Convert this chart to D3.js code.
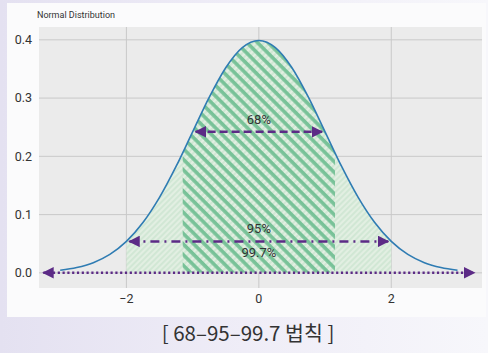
<!DOCTYPE html>
<html>
<head>
<meta charset="utf-8">
<script src="https://cdn.jsdelivr.net/npm/d3@7"></script>
<style>
  html, body { margin: 0; padding: 0; }
  body { width: 488px; height: 353px; overflow: hidden;
         background: linear-gradient(90deg, #e4e1f1 0%, #efedf7 50%, #f7f7fb 100%); }
</style>
</head>
<body>
<div id="chart"></div>
<script>
// values
var curveX = [-3, -2.75, -2.5, -2.25, -2, -1.75, -1.5, -1.25, -1, -0.75, -0.5, -0.25, 0,
              0.25, 0.5, 0.75, 1, 1.25, 1.5, 1.75, 2, 2.25, 2.5, 2.75, 3];
var curveY = [0.0044, 0.0091, 0.0175, 0.0317, 0.054, 0.0863, 0.1295, 0.1826, 0.242, 0.3011, 0.3521, 0.3867, 0.3989,
              0.3867, 0.3521, 0.3011, 0.242, 0.1826, 0.1295, 0.0863, 0.054, 0.0317, 0.0175, 0.0091, 0.0044];
var xTicks = [-2, 0, 2];
var yTicks = [0.0, 0.1, 0.2, 0.3, 0.4];
var bandLight = [-2, 2];
var bandDark = [-1.15, 1.15];
var arrows = [
  {from: -1, to: 1, y: 0.242, dash: "8,4"},
  {from: -2, to: 2, y: 0.054, dash: "9,5,2,5"},
  {from: -3.3, to: 3.3, y: 0, dash: "2.2,2.6"}
];
var labels = [
  {text: "68%", x: 0, y: 0.262},
  {text: "95%", x: 0, y: 0.075},
  {text: "99.7%", x: 0, y: 0.033}
];

var W = 488, H = 353;
var plot = {left: 39, right: 482, top: 27, bottom: 288};

var svg = d3.select("#chart").append("svg")
    .attr("width", W).attr("height", H);

/*white card*/
svg.append("rect").attr("x", 7).attr("y", 3).attr("width", 479).attr("height", 314).attr("fill", "#fbfbfc");

var x = d3.scaleLinear().domain([-3.32, 3.37]).range([plot.left, plot.right]);
var y = d3.scaleLinear().domain([-0.026, 0.422]).range([plot.bottom, plot.top]);

var defs = svg.append("defs");

/*hatch patterns*/
var pLight = defs.append("pattern").attr("id", "hLight")
    .attr("width", 4).attr("height", 4).attr("patternUnits", "userSpaceOnUse")
    .attr("patternTransform", "rotate(45)");
pLight.append("rect").attr("width", 4).attr("height", 4).attr("fill", "#e2efe2");
pLight.append("line").attr("x1", 1).attr("x2", 1).attr("y1", 0).attr("y2", 4)
    .attr("stroke", "#c6e3cc").attr("stroke-width", 1.2);

var pDark = defs.append("pattern").attr("id", "hDark")
    .attr("width", 7.5).attr("height", 7.5).attr("patternUnits", "userSpaceOnUse")
    .attr("patternTransform", "rotate(-45)");
pDark.append("line").attr("x1", 2).attr("x2", 2).attr("y1", 0).attr("y2", 7.5)
    .attr("stroke", "#78c298").attr("stroke-width", 3.6);

defs.append("clipPath").attr("id", "cLight").append("rect")
    .attr("x", x(bandLight[0])).attr("width", x(bandLight[1]) - x(bandLight[0]))
    .attr("y", plot.top).attr("height", y(0) - plot.top);
defs.append("clipPath").attr("id", "cDark").append("rect")
    .attr("x", x(bandDark[0])).attr("width", x(bandDark[1]) - x(bandDark[0]))
    .attr("y", plot.top).attr("height", y(0) - plot.top);

var marker = defs.append("marker").attr("id", "arr")
    .attr("viewBox", "0 0 10 10").attr("refX", 9).attr("refY", 5)
    .attr("markerWidth", 4.6).attr("markerHeight", 4.6).attr("markerUnits", "strokeWidth")
    .attr("orient", "auto-start-reverse");
marker.append("path").attr("d", "M0,0 L10,5 L0,10 Z").attr("fill", "#5c2b86");

/*plot background*/
svg.append("rect").attr("x", plot.left).attr("y", plot.top)
    .attr("width", plot.right - plot.left).attr("height", plot.bottom - plot.top)
    .attr("fill", "#ebebeb");

/*gridlines*/
svg.append("g").selectAll("line").data(yTicks).join("line")
    .attr("x1", plot.left).attr("x2", plot.right)
    .attr("y1", d => y(d)).attr("y2", d => y(d))
    .attr("stroke", "#c9c9c9").attr("stroke-width", 1);
svg.append("g").selectAll("line").data(xTicks).join("line")
    .attr("y1", plot.top).attr("y2", plot.bottom)
    .attr("x1", d => x(d)).attr("x2", d => x(d))
    .attr("stroke", "#c9c9c9").attr("stroke-width", 1);

var pts = curveX.map((v, i) => [v, curveY[i]]);

var area = d3.area().x(d => x(d[0])).y0(y(0)).y1(d => y(d[1])).curve(d3.curveMonotoneX);
svg.append("path").datum(pts).attr("d", area).attr("fill", "url(#hLight)").attr("clip-path", "url(#cLight)");
svg.append("path").datum(pts).attr("d", area).attr("fill", "url(#hDark)").attr("clip-path", "url(#cDark)");

var line = d3.line().x(d => x(d[0])).y(d => y(d[1])).curve(d3.curveMonotoneX);
svg.append("path").datum(pts).attr("d", line)
    .attr("fill", "none").attr("stroke", "#2f7cb3").attr("stroke-width", 1.6);

/*arrows*/
svg.append("g").selectAll("line").data(arrows).join("line")
    .attr("x1", d => x(d.from) + 3).attr("x2", d => x(d.to) - 3)
    .attr("y1", d => y(d.y)).attr("y2", d => y(d.y))
    .attr("stroke", "#5c2b86").attr("stroke-width", 2.5)
    .attr("stroke-dasharray", d => d.dash)
    .attr("marker-start", "url(#arr)").attr("marker-end", "url(#arr)");

svg.append("g").selectAll("text").data(labels).join("text")
    .attr("x", d => x(d.x)).attr("y", d => y(d.y))
    .attr("text-anchor", "middle").attr("dominant-baseline", "middle")
    .attr("font-family", "Roboto, 'DejaVu Sans', sans-serif").attr("font-size", 13)
    .attr("fill", "#333").text(d => d.text);

/*axes labels*/
svg.append("g").selectAll("text").data(yTicks).join("text")
    .attr("x", 32).attr("y", d => y(d)).attr("dy", "0.35em")
    .attr("text-anchor", "end")
    .attr("font-family", "Roboto, 'DejaVu Sans', sans-serif").attr("font-size", 12.5)
    .attr("fill", "#333").text(d => d3.format(".1f")(d));
svg.append("g").selectAll("text").data(xTicks).join("text")
    .attr("x", d => x(d)).attr("y", 303)
    .attr("text-anchor", "middle")
    .attr("font-family", "Roboto, 'DejaVu Sans', sans-serif").attr("font-size", 12.5)
    .attr("fill", "#333").text(d => d3.format("d")(d).replace("-", "\u2212"));

svg.append("text").attr("x", 37).attr("y", 18)
    .attr("font-family", "Roboto, 'DejaVu Sans', sans-serif").attr("font-size", 9)
    .attr("fill", "#333").text("Normal Distribution");

svg.append("text").attr("x", 248).attr("y", 341)
    .attr("text-anchor", "middle")
    .attr("font-family", "'Noto Sans CJK KR', 'Noto Sans', sans-serif").attr("font-size", 20.5)
    .attr("fill", "#333").text("[ 68\u201395\u201399.7 법칙 ]");
</script>
</body>
</html>
